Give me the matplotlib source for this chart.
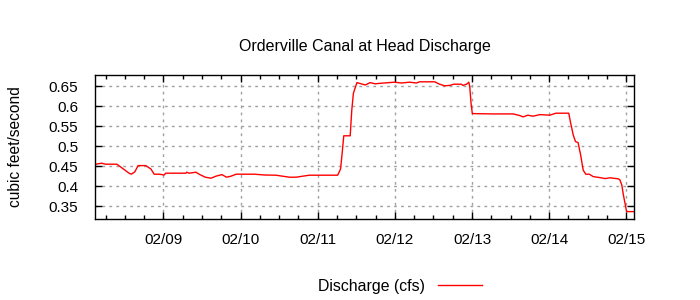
import numpy as np
import matplotlib
matplotlib.use('Agg')
import matplotlib.pyplot as plt
import matplotlib.dates as mdates
from datetime import datetime, timedelta

# Horas desde 02/08 00:00 y caudal (cfs)
hours = [3.0, 4.7, 6.0, 9.5, 11.2, 13.3, 14.0, 15.1, 16.1, 18.5, 20.1, 21.1,
         22.7, 24.2, 24.7, 31.0, 31.2, 32.0, 34.1, 35.1, 37.0, 38.8, 40.3,
         42.2, 43.6, 45.0, 46.6, 52.3, 55.4, 59.0, 61.1, 63.2, 65.3, 67.3,
         69.4, 78.2, 79.1, 79.6, 80.1, 82.1, 82.6, 83.1, 84.2, 85.5, 86.8,
         88.3, 89.9, 91.8, 95.9, 98.0, 100.6, 102.7, 103.7, 108.4, 109.9,
         111.5, 113.1, 114.3, 116.7, 117.2, 118.3, 119.0, 119.3, 119.7,
         120.1, 126.5, 132.8, 134.9, 135.9, 137.4, 139.0, 141.1, 144.2,
         146.1, 150.1, 150.7, 151.5, 152.2, 153.0, 153.8, 154.6, 155.4,
         156.5, 157.7, 159.8, 161.4, 162.9, 165.5, 166.0, 166.6, 167.1,
         167.6, 168.1, 170.4]
discharge = [0.455, 0.4575, 0.455, 0.455, 0.445, 0.4325, 0.43, 0.436, 0.4515,
             0.4515, 0.443, 0.43, 0.43, 0.428, 0.4325, 0.4325, 0.435, 0.4325,
             0.435, 0.43, 0.4225, 0.42, 0.425, 0.429, 0.4225, 0.425, 0.43,
             0.43, 0.428, 0.4275, 0.425, 0.4225, 0.4225, 0.425, 0.4275, 0.4275,
             0.443, 0.4825, 0.526, 0.526, 0.591, 0.6325, 0.659, 0.656, 0.653,
             0.659, 0.656, 0.6575, 0.66, 0.658, 0.66, 0.658, 0.661, 0.661,
             0.655, 0.651, 0.652, 0.655, 0.655, 0.652, 0.655, 0.66, 0.649,
             0.6075, 0.5815, 0.5807, 0.5807, 0.5765, 0.5733, 0.5775, 0.575,
             0.579, 0.5775, 0.5825, 0.5825, 0.5575, 0.528, 0.5115, 0.509,
             0.478, 0.44, 0.43, 0.43, 0.424, 0.4215, 0.419, 0.421, 0.4185,
             0.416, 0.403, 0.378, 0.3575, 0.3365, 0.3365]
yticks = [0.35, 0.4, 0.45, 0.5, 0.55, 0.6, 0.65]

t0 = datetime(2024, 2, 8)
times = [t0 + timedelta(hours=h) for h in hours]

plt.rcParams['font.family'] = ['Liberation Sans', 'DejaVu Sans']
plt.rcParams['font.size'] = 11

fig = plt.figure(figsize=(7, 3), dpi=100)
ax = fig.add_axes([95/700, 81/300, 539/700, 144/300])

ax.plot(times, discharge, '-', color='red', lw=1, label='Discharge (cfs)')

ax.set_xlim(t0 + timedelta(hours=2.7), t0 + timedelta(hours=170.4))
ax.set_ylim(0.318, 0.678)
ax.set_yticks(yticks)
ax.set_yticklabels([('%g' % v) for v in yticks])
ax.xaxis.set_major_locator(mdates.DayLocator())
ax.xaxis.set_minor_locator(mdates.HourLocator(byhour=[0, 6, 12, 18]))
ax.xaxis.set_major_formatter(mdates.DateFormatter('%m/%d'))

ax.tick_params(which='both', direction='in', top=True, right=True, width=1,
               labelsize=11)
ax.tick_params(which='major', length=5, pad=10)
ax.tick_params(which='minor', length=3)
ax.tick_params(axis='y', pad=12)
ax.grid(True, which='major', color='#a0a0a0', linestyle=(0, (2, 3)), lw=1)
for s in ax.spines.values():
    s.set_linewidth(1)

ax.set_title('Orderville Canal at Head Discharge', pad=17, fontsize=11.5)
ax.set_ylabel('cubic feet/second', fontsize=11.2)
ax.yaxis.set_label_coords(-0.1336, 0.5)

fig.legend(loc='center', bbox_to_anchor=(400/700, 14/300), frameon=False,
           markerfirst=False, handlelength=2.8, handletextpad=0.82,
           fontsize=11.4)

fig.savefig('out.png', dpi=100)
